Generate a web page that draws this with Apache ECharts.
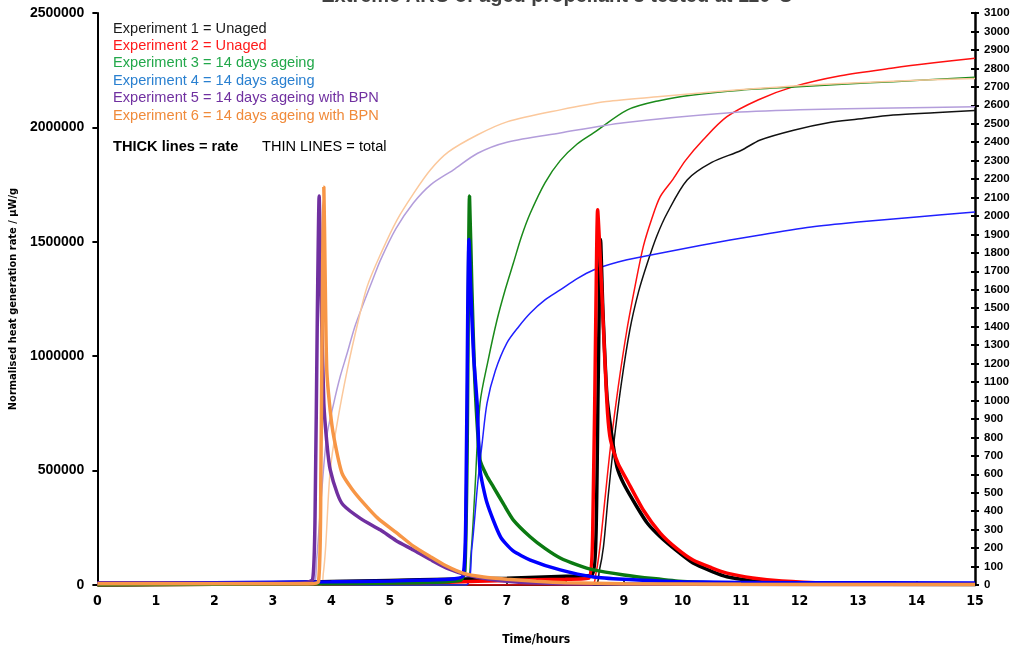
<!DOCTYPE html>
<html>
<head>
<meta charset="utf-8">
<script src="https://cdn.jsdelivr.net/npm/echarts@6/dist/echarts.min.js"></script>
<style>html,body{margin:0;padding:0;background:#fff;}#c{width:1023px;height:652px;}</style>
</head>
<body>
<div id="c"></div>
<script>
// ---- Data (time in hours) ----
var titleText = "Extreme ARC of aged propellant 3 tested at 110°C";
var legendLines = [
  "Experiment 1 = Unaged",
  "Experiment 2 = Unaged",
  "Experiment 3 = 14 days ageing",
  "Experiment 4 = 14 days ageing",
  "Experiment 5 = 14 days ageing with BPN",
  "Experiment 6 = 14 days ageing with BPN"
];
var noteBold = "THICK lines = rate";
var noteThin = "THIN LINES = total";

// Rate (left axis, µW/g)
var rate1 = [[0,0],[1,3000],[2,6000],[3,10000],[4,15000],[5,20000],[6,25000],[7,30000],[8,38000],[8.45,42000],[8.52,200000],[8.56,900000],[8.6,1510000],[8.64,1200000],[8.71,823000],[8.8,640000],[8.88,517000],[9.0,440000],[9.22,342000],[9.4,270000],[9.62,211000],[9.9,150000],[10.18,96000],[10.5,60000],[10.76,36000],[11.2,18000],[11.6,10000],[12.5,5000],[15,3000]];
var rate2 = [[0,0],[2,3000],[4,6000],[6,12000],[7,20000],[8,25000],[8.4,30000],[8.47,300000],[8.52,1200000],[8.55,1640000],[8.6,1400000],[8.67,1000000],[8.72,750000],[8.77,634000],[8.9,530000],[9.05,459000],[9.33,328000],[9.62,227000],[9.9,160000],[10.18,109000],[10.5,75000],[10.76,52000],[11.2,31000],[11.7,18000],[12.5,9000],[13.5,5000],[15,3000]];
var rate3 = [[0,0],[2,3000],[4,6000],[5.5,10000],[6.2,20000],[6.28,60000],[6.32,600000],[6.36,1700000],[6.4,1300000],[6.45,900000],[6.54,546000],[6.65,480000],[6.77,428000],[6.95,350000],[7.11,284000],[7.4,210000],[7.65,160000],[7.91,118000],[8.2,88000],[8.48,66000],[9,44000],[9.5,28000],[10,15000],[11,7000],[12,4000],[15,2000]];
var rate4 = [[0,8000],[1,10000],[2,10000],[3,12000],[4,14000],[5,18000],[6,25000],[6.25,40000],[6.3,400000],[6.33,1200000],[6.35,1510000],[6.38,1300000],[6.43,1000000],[6.49,795000],[6.54,503000],[6.66,358000],[6.89,210000],[7.1,150000],[7.4,109000],[7.91,66000],[8.48,35000],[9,25000],[10,14000],[12,10000],[15,9000]];
var rate5 = [[0,10000],[1,10000],[2,8000],[3,8000],[3.55,10000],[3.68,25000],[3.72,300000],[3.76,1200000],[3.79,1700000],[3.82,1300000],[3.87,795000],[3.93,600000],[3.98,503000],[4.1,400000],[4.2,350000],[4.5,290000],[4.84,240000],[5.1,195000],[5.4,153000],[5.7,110000],[5.97,74000],[6.32,44000],[6.7,25000],[7.2,12000],[8,6000],[10,3000],[15,2000]];
var rate6 = [[0,5000],[2,5000],[3.6,5000],[3.78,15000],[3.82,500000],[3.85,1400000],[3.87,1740000],[3.89,1400000],[3.92,940000],[3.98,760000],[4.04,648000],[4.18,489000],[4.35,420000],[4.55,358000],[4.8,290000],[5.12,227000],[5.4,170000],[5.69,124000],[5.95,85000],[6.25,52000],[6.6,35000],[7,25000],[7.5,16000],[8,10000],[9,6000],[11,3000],[15,2000]];

// Total (right axis)
var total1 = [[0,0],[8.5,0],[8.58,80],[8.65,208],[8.73,480],[8.82,750],[8.95,1080],[9.1,1382],[9.25,1590],[9.4,1745],[9.56,1890],[9.74,2016],[10.08,2195],[10.5,2290],[11,2355],[11.33,2412],[11.9,2465],[12.47,2504],[13,2525],[13.6,2547],[14.3,2560],[15,2571]];
var total2 = [[0,0],[8.45,0],[8.52,60],[8.59,208],[8.68,480],[8.77,750],[8.9,1070],[9.05,1382],[9.19,1620],[9.33,1834],[9.47,1980],[9.62,2105],[9.84,2200],[10.05,2300],[10.35,2412],[10.76,2538],[11.3,2630],[11.9,2701],[12.7,2760],[13.6,2802],[14.3,2830],[15,2855]];
var total3 = [[0,0],[6.3,0],[6.38,150],[6.45,500],[6.54,986],[6.68,1220],[6.83,1436],[6.97,1600],[7.11,1745],[7.25,1890],[7.4,2016],[7.65,2180],[7.91,2300],[8.2,2390],[8.48,2450],[9.06,2575],[9.6,2625],[10.18,2656],[11,2682],[11.9,2699],[12.8,2715],[13.6,2728],[15,2752]];
var total4 = [[0,0],[6.3,0],[6.4,200],[6.5,550],[6.58,780],[6.66,986],[6.8,1160],[7.0,1312],[7.2,1400],[7.4,1474],[7.65,1545],[7.91,1599],[8.2,1660],[8.48,1707],[8.9,1750],[9.33,1780],[10.3,1840],[11.33,1897],[12.2,1940],[13,1967],[14,1995],[15,2022]];
var total5 = [[0,0],[3.68,0],[3.75,150],[3.82,450],[3.92,804],[4.04,986],[4.15,1130],[4.27,1257],[4.4,1400],[4.55,1528],[4.7,1650],[4.84,1762],[5.1,1930],[5.4,2070],[5.7,2170],[6.08,2249],[6.5,2340],[7,2400],[7.91,2450],[9,2505],[10.76,2558],[12,2575],[13.6,2585],[15,2592]];
var total6 = [[0,0],[3.82,0],[3.86,60],[3.9,200],[3.98,623],[4.1,880],[4.27,1165],[4.45,1420],[4.61,1617],[4.85,1800],[5.12,1978],[5.4,2120],[5.69,2249],[6,2347],[6.5,2440],[7,2510],[7.91,2575],[8.7,2620],[9.62,2647],[10.5,2672],[11.33,2692],[11.9,2705],[13,2722],[14,2735],[15,2745]];

// ---- Chart ----
var rateColors = ['#000000','#ff0000','#0b7a12','#0000ff','#7030a0','#f79646'];
var totalColors = ['#111111','#ff1010','#1a8a1a','#2020ff','#b39ddb','#fbc89c'];
var legendColors = ['#1a1a1a','#ff1a1a','#22a84a','#2a80d0','#7030a0','#f08a3a'];
var rates = [rate1, rate2, rate3, rate4, rate5, rate6];
var totals = [total1, total2, total3, total4, total5, total6];

var series = [];
totals.forEach(function (d, i) {
  series.push({type:'line', yAxisIndex:1, data:d, showSymbol:false, silent:true, z:2,
    smooth:0.3,
    lineStyle:{color:totalColors[i], width:1.5}, itemStyle:{color:totalColors[i]}});
});
rates.forEach(function (d, i) {
  series.push({type:'line', yAxisIndex:0, data:d, showSymbol:false, silent:true, z:3,
    smooth:0.2,
    lineStyle:{color:rateColors[i], width:3.5}, itemStyle:{color:rateColors[i]}});
});

var legendFont = '14.6px "Liberation Sans", Arial';
var graphics = [{type:'text', x:557, y:-14, style:{text:titleText, font:'bold 20px "Liberation Sans", Arial', fill:'#404040', align:'center', verticalAlign:'top'}}];
legendLines.forEach(function (t, i) {
  graphics.push({type:'text', left:113, top:21 + i*17.4, style:{text:t, font:legendFont, fill:legendColors[i]}});
});
graphics.push({type:'text', left:113, top:139, style:{text:noteBold, font:'bold 14.6px "Liberation Sans", Arial', fill:'#000'}});
graphics.push({type:'text', left:262, top:139, style:{text:noteThin, font:legendFont, fill:'#000'}});

var chart = echarts.init(document.getElementById('c'), null, {renderer:'canvas'});
chart.setOption({
  animation:false,
  backgroundColor:'#fff',
  grid:{left:97, right:48, top:13, bottom:67, containLabel:false},
  xAxis:{type:'value', min:0, max:15, interval:1,
    name:'Time/hours', nameLocation:'middle', nameGap:49,
    nameTextStyle:{fontFamily:'"Liberation Sans Narrow","DejaVu Sans Condensed",Arial', fontWeight:'bold', fontSize:12, color:'#000'},
    axisLine:{lineStyle:{color:'#000', width:2}},
    axisTick:{inside:true, length:4, lineStyle:{color:'#000', width:1.5}},
    axisLabel:{color:'#000', fontWeight:'bold', fontSize:14, margin:9, fontFamily:'"Liberation Sans Narrow","DejaVu Sans Condensed",Arial'},
    splitLine:{show:false}},
  yAxis:[
    {type:'value', min:0, max:2500000, interval:500000, position:'left',
     name:'Normalised heat generation rate / µW/g', nameLocation:'middle', nameGap:74, nameRotate:90,
     nameTextStyle:{fontFamily:'"Liberation Sans Narrow","DejaVu Sans Condensed",Arial', fontWeight:'bold', fontSize:11, color:'#000'},
     axisLine:{show:true, lineStyle:{color:'#000', width:2}},
     axisTick:{show:true, length:5, lineStyle:{color:'#000', width:2}},
     axisLabel:{color:'#000', fontWeight:'bold', fontSize:14, margin:13, fontFamily:'"Liberation Sans", Arial', formatter:function(v){return String(v);}},
     splitLine:{show:false}},
    {type:'value', min:0, max:3100, interval:100, position:'right',
     axisLine:{show:true, lineStyle:{color:'#000', width:2.5}},
     axisTick:{show:true, length:4, lineStyle:{color:'#000', width:2}},
     axisLabel:{color:'#000', fontWeight:'bold', fontSize:11.5, margin:9, fontFamily:'"Liberation Sans", Arial', formatter:function(v){return String(v);}},
     splitLine:{show:false}},
    {type:'value', min:0, max:3100, interval:100, position:'right',
     axisLine:{show:false},
     axisTick:{show:true, inside:true, length:4, lineStyle:{color:'#000', width:2}},
     axisLabel:{show:false}, splitLine:{show:false}}
  ],
  series:series,
  graphic:graphics
});
</script>
</body>
</html>
